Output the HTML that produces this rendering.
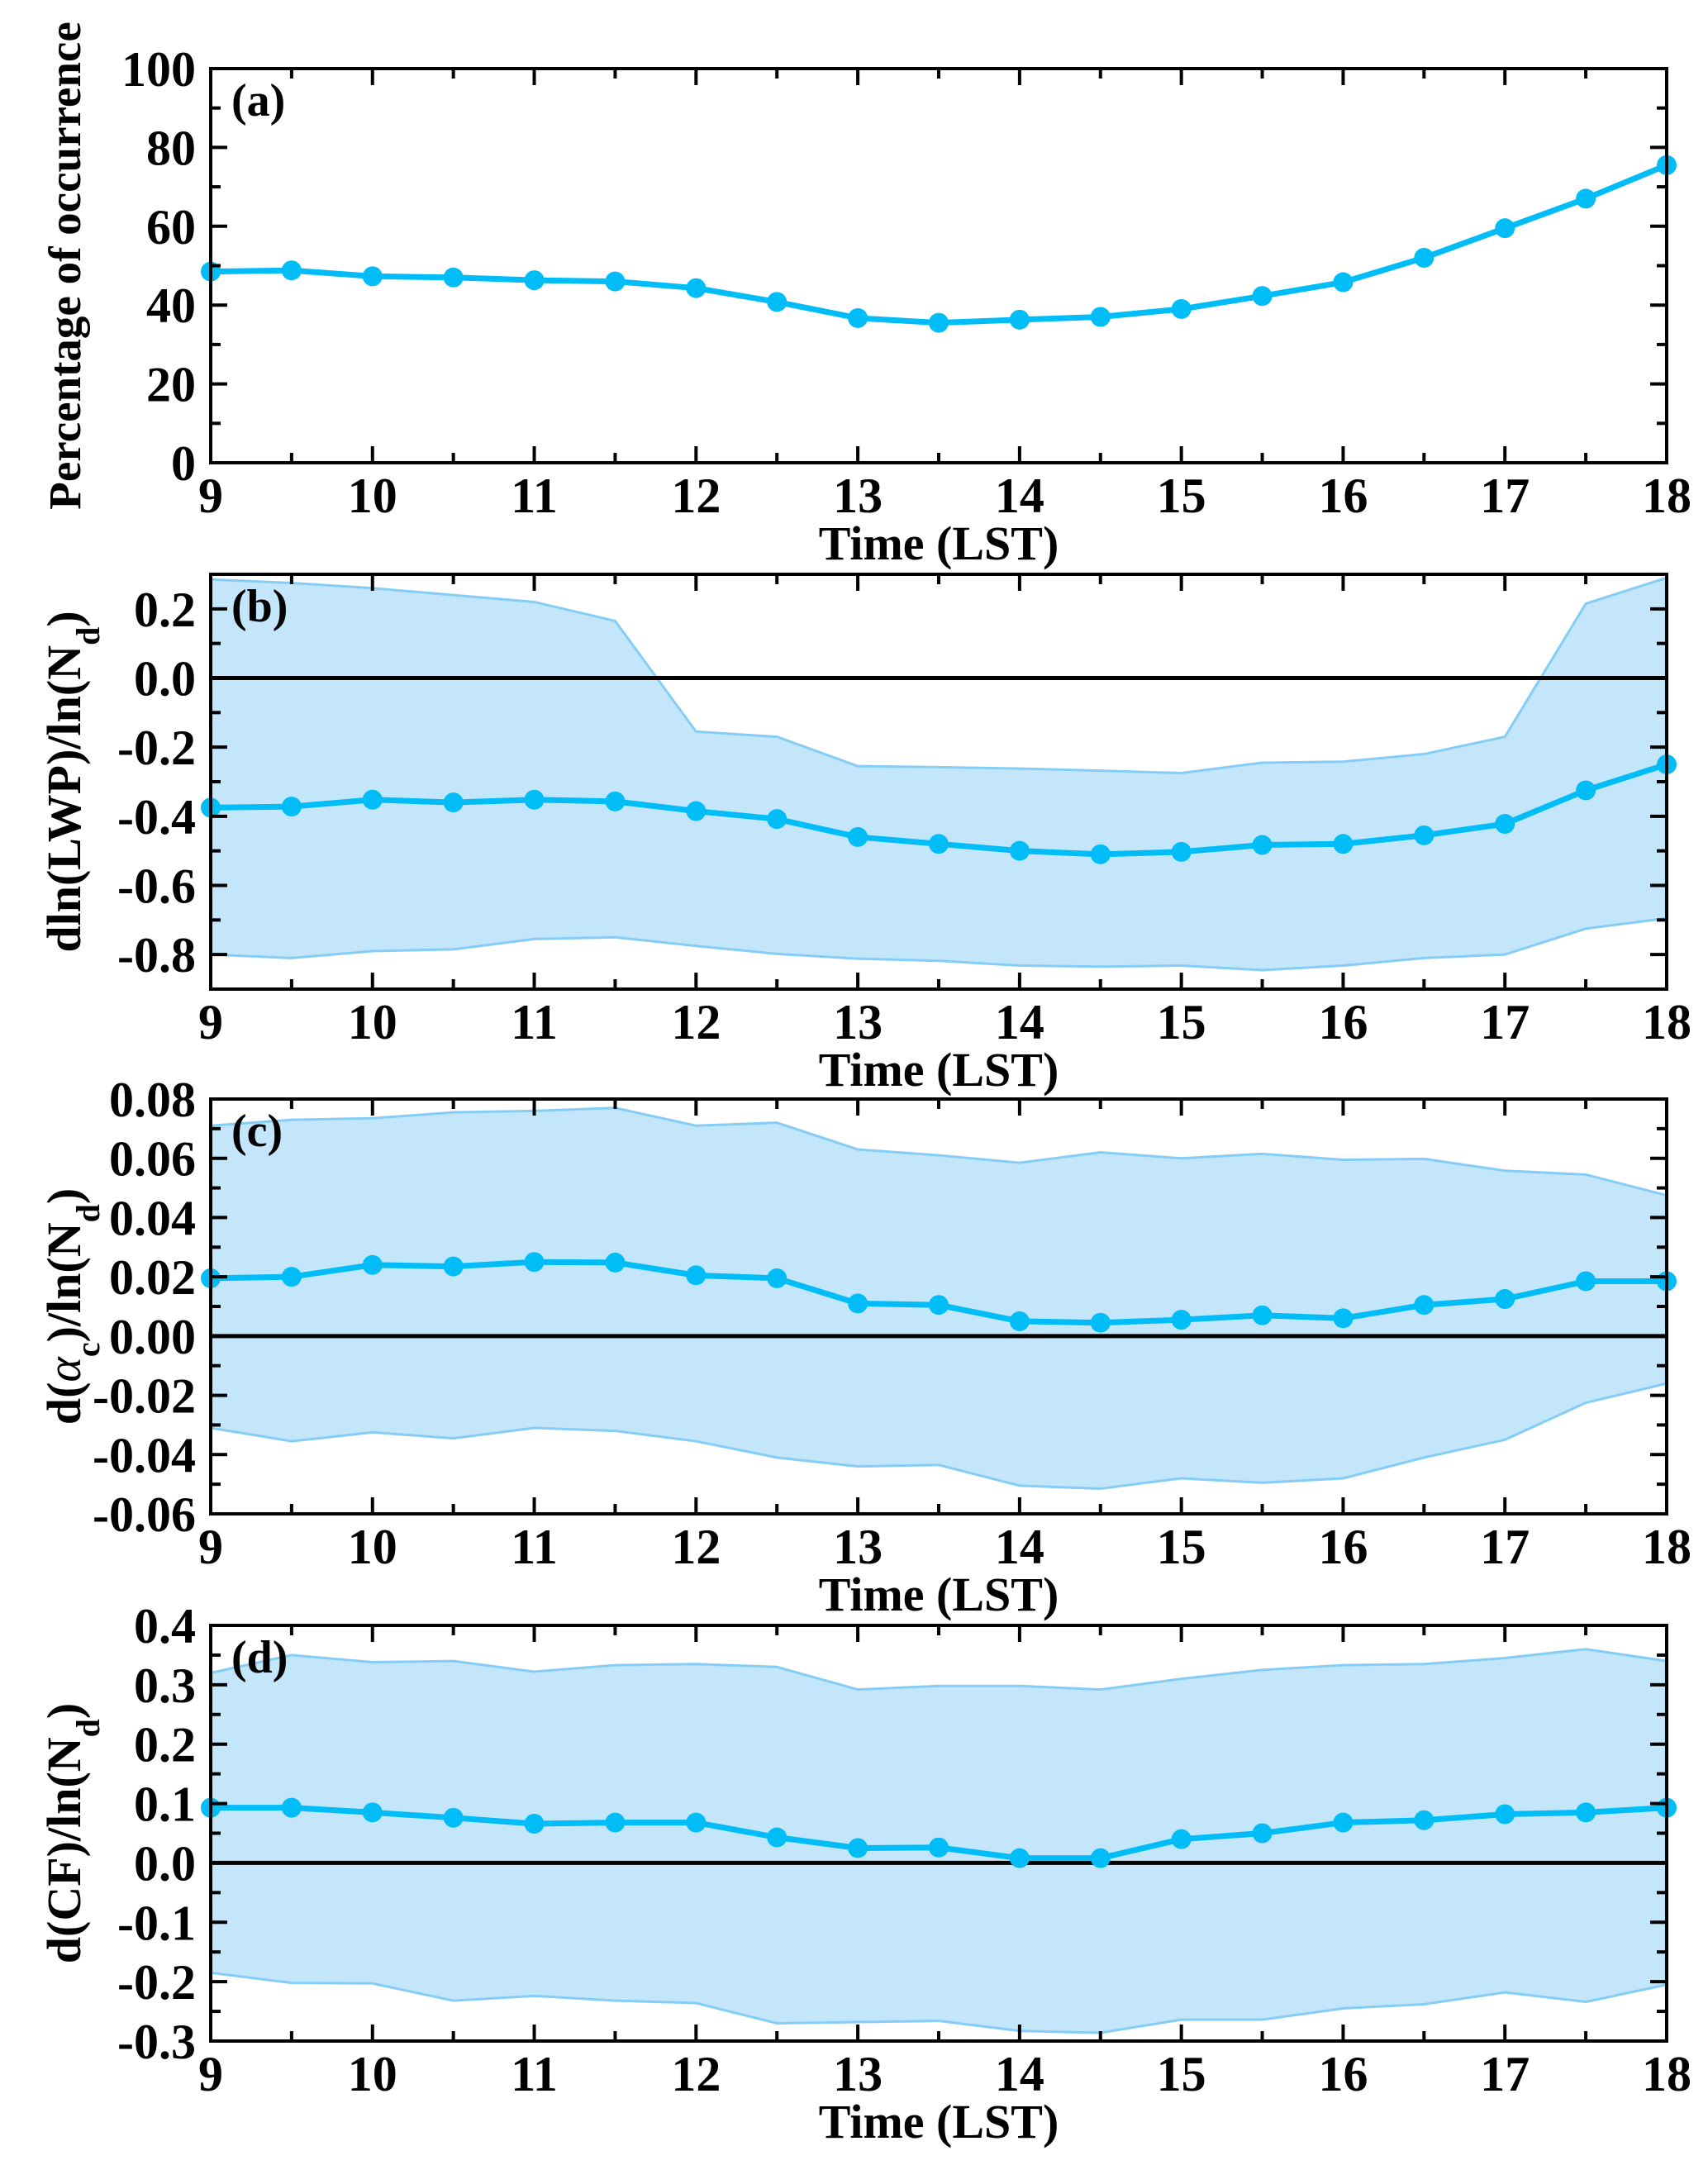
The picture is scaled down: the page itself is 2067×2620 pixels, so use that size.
<!DOCTYPE html>
<html><head><meta charset="utf-8"><style>
html,body{margin:0;padding:0;background:#fff}
svg{display:block}
text{font-family:"Liberation Serif",serif;font-weight:bold;fill:#000}
</style></head><body>
<svg id="chart" width="2067" height="2620" xmlns="http://www.w3.org/2000/svg"></svg>
<script>
const hours = [9,9.5,10,10.5,11,11.5,12,12.5,13,13.5,14,14.5,15,15.5,16,16.5,17,17.5,18];
const xTicks = [9,10,11,12,13,14,15,16,17,18];
const occurrence = [48.5,48.8,47.3,47,46.3,46,44.3,40.8,36.7,35.5,36.3,37,39,42.3,45.8,52,59.5,67,75.5];
const lwpMean = [-0.375,-0.372,-0.352,-0.36,-0.352,-0.357,-0.385,-0.408,-0.46,-0.48,-0.5,-0.51,-0.503,-0.483,-0.48,-0.455,-0.422,-0.325,-0.25];
const lwpUpper = [0.285,0.275,0.26,0.24,0.22,0.165,-0.155,-0.17,-0.255,-0.258,-0.262,-0.268,-0.275,-0.245,-0.242,-0.22,-0.17,0.215,0.29];
const lwpLower = [-0.8,-0.81,-0.79,-0.785,-0.755,-0.75,-0.775,-0.798,-0.812,-0.818,-0.832,-0.835,-0.832,-0.845,-0.832,-0.81,-0.8,-0.725,-0.695];
const albMean = [0.0195,0.02,0.024,0.0235,0.025,0.0248,0.0205,0.0195,0.011,0.0105,0.005,0.0045,0.0055,0.007,0.006,0.0105,0.0125,0.0185,0.0185];
const albUpper = [0.071,0.073,0.0735,0.0755,0.076,0.077,0.071,0.072,0.063,0.061,0.0585,0.062,0.06,0.0615,0.0595,0.0598,0.0558,0.0545,0.0475];
const albLower = [-0.031,-0.0355,-0.0325,-0.0345,-0.031,-0.032,-0.0355,-0.041,-0.044,-0.0435,-0.0505,-0.0515,-0.048,-0.0495,-0.048,-0.041,-0.035,-0.0225,-0.016];
const cfMean = [0.093,0.093,0.085,0.076,0.066,0.068,0.068,0.043,0.025,0.026,0.008,0.008,0.04,0.05,0.068,0.072,0.082,0.085,0.093];
const cfUpper = [0.32,0.35,0.338,0.34,0.322,0.333,0.335,0.33,0.292,0.298,0.298,0.292,0.31,0.325,0.333,0.335,0.345,0.36,0.34];
const cfLower = [-0.185,-0.202,-0.203,-0.232,-0.224,-0.232,-0.236,-0.27,-0.268,-0.266,-0.283,-0.286,-0.264,-0.264,-0.245,-0.238,-0.218,-0.234,-0.205];
const ticksA = ["0","20","40","60","80","100"];
const ticksB = ["-0.8","-0.6","-0.4","-0.2","0.0","0.2"];
const ticksC = ["-0.06","-0.04","-0.02","0.00","0.02","0.04","0.06","0.08"];
const ticksD = ["-0.3","-0.2","-0.1","0.0","0.1","0.2","0.3","0.4"];

const NS="http://www.w3.org/2000/svg";
const svg=document.getElementById('chart');
function mk(tag,attrs,parent){const e=document.createElementNS(NS,tag);for(const k in attrs)e.setAttribute(k,attrs[k]);(parent||svg).appendChild(e);return e;}
const L=255,R=2017;
const xs=v=>L+(v-9)/9*(R-L);

function panel(cfg){
  const g=mk('g',{});
  
  
  const T=cfg.top,B=cfg.bottom;
  const ys=v=>B-(v-cfg.min)/(cfg.max-cfg.min)*(B-T);
  if(cfg.upper){
    let d='';
    hours.forEach((h,i)=>{d+=(i?'L':'M')+xs(h)+','+ys(cfg.upper[i]);});
    for(let i=hours.length-1;i>=0;i--)d+='L'+xs(hours[i])+','+ys(cfg.lower[i]);
    const band=mk('path',{d:d+'Z',fill:'#c3e6fa',stroke:'none'},g);
    
    
    [cfg.upper,cfg.lower].forEach((arr,j)=>{
      const p=mk('polyline',{points:hours.map((h,i)=>xs(h)+','+ys(arr[i])).join(' '),fill:'none',stroke:'#85cdf6','stroke-width':3},g);
      
      
    });
    const z=mk('line',{x1:L,x2:R,y1:ys(0),y2:ys(0),stroke:'#000','stroke-width':5},g);
    
    
  }
  const ln=mk('polyline',{points:hours.map((h,i)=>xs(h)+','+ys(cfg.mean[i])).join(' '),fill:'none',stroke:'#00bdf7','stroke-width':7},g);
  
  
  hours.forEach((h,i)=>{
    const c=mk('circle',{cx:xs(h),cy:ys(cfg.mean[i]),r:12,fill:'#00bdf7'},g);
    
    
  });
  const f=mk('rect',{x:L,y:T,width:R-L,height:B-T,fill:'none',stroke:'#000','stroke-width':4},g);
  
  
  for(let v=9;v<=18.001;v+=0.5){
    const len=(Math.abs(v-Math.round(v))<0.01)?20:12;
    mk('line',{x1:xs(v),x2:xs(v),y1:B,y2:B-len,stroke:'#000','stroke-width':4},g);
    mk('line',{x1:xs(v),x2:xs(v),y1:T,y2:T+len,stroke:'#000','stroke-width':4},g);
  }
  xTicks.forEach(v=>{
    const t=mk('text',{x:xs(v),y:B+60,'text-anchor':'middle','font-size':60},g);
    t.textContent=v;
    
    
  });
  const xt=mk('text',{x:(L+R)/2,y:B+117,'text-anchor':'middle','font-size':58},g);
  xt.textContent='Time (LST)';
  
  
  const n=cfg.labels.length;
  for(let k=0;k<(n-1)*2+1;k++){
    const v=cfg.first+k*cfg.step/2;
    if(v<cfg.min-1e-9||v>cfg.max+1e-9)continue;
    const len=(k%2===0)?20:12;
    mk('line',{x1:L,x2:L+len,y1:ys(v),y2:ys(v),stroke:'#000','stroke-width':4},g);
    mk('line',{x1:R,x2:R-len,y1:ys(v),y2:ys(v),stroke:'#000','stroke-width':4},g);
  }
  cfg.labels.forEach((lab,k)=>{
    const v=cfg.first+k*cfg.step;
    const t=mk('text',{x:L-18,y:ys(v)+21,'text-anchor':'end','font-size':60},g);
    t.textContent=lab;
    
    
  });
  const pl=mk('text',{x:L+25,y:T+57,'font-size':56},g);
  pl.textContent='('+cfg.id+')';
  
  
  const yt=mk('text',{x:0,y:0,'text-anchor':'middle','font-size':cfg.tfs||58,transform:'translate(97,'+((T+B)/2)+') rotate(-90)'},g);
  yt.innerHTML=cfg.title;
  
  
}
const sub=s=>'<tspan baseline-shift="sub" font-size="40">'+s+'</tspan>';
panel({id:'a',top:83,bottom:560,min:0,max:100,first:0,step:20,labels:ticksA,mean:occurrence,tfs:55,title:'Percentage of occurrence'});
panel({id:'b',top:695,bottom:1197,min:-0.9,max:0.3,first:-0.8,step:0.2,labels:ticksB,mean:lwpMean,upper:lwpUpper,lower:lwpLower,title:'dln(LWP)/ln(N'+sub('d')+')'});
panel({id:'c',top:1330,bottom:1832,min:-0.06,max:0.08,first:-0.06,step:0.02,labels:ticksC,mean:albMean,upper:albUpper,lower:albLower,title:'d(<tspan font-style="italic" font-weight="normal">α</tspan>'+sub('c')+')/ln(N'+sub('d')+')'});
panel({id:'d',top:1967,bottom:2470,min:-0.3,max:0.4,first:-0.3,step:0.1,labels:ticksD,mean:cfMean,upper:cfUpper,lower:cfLower,title:'d(CF)/ln(N'+sub('d')+')'});
</script>
</body></html>
